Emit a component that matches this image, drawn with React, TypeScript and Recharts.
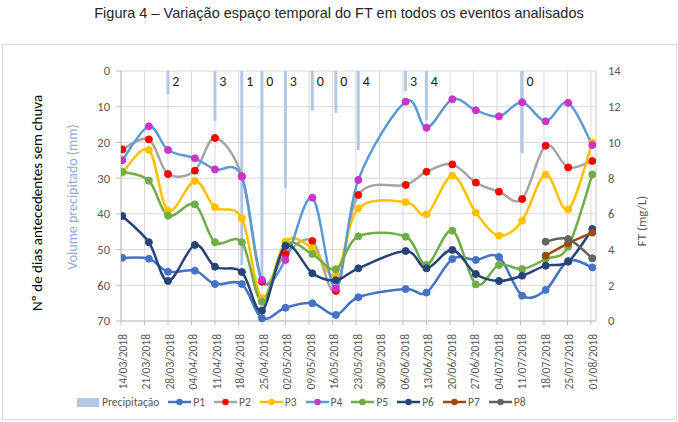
import React from 'react';
import { ComposedChart, Bar, Line, XAxis, YAxis, CartesianGrid, Legend, LabelList } from 'recharts';

// ---------- DATA ----------
// weekly axis ticks (days since 14/03/2018)
const tickDays = [0, 7, 14, 21, 28, 35, 42, 49, 56, 63, 70, 77, 84, 91, 98, 105, 112, 119, 126, 133, 140];
const tickLabels = [
  '14/03/2018', '21/03/2018', '28/03/2018', '04/04/2018', '11/04/2018', '18/04/2018', '25/04/2018',
  '02/05/2018', '09/05/2018', '16/05/2018', '23/05/2018', '30/05/2018', '06/06/2018', '13/06/2018',
  '20/06/2018', '27/06/2018', '04/07/2018', '11/07/2018', '18/07/2018', '25/07/2018', '01/08/2018',
];
// sampling events (days since 14/03/2018)
const sampleDays = [0.4, 8.3, 14, 22, 28, 36, 42, 49, 57, 64, 70.7, 84.8, 91, 98.7, 105.7, 112.6, 119.5, 126.5, 133.2, 140.4];
// precipitation before each event (mm)
const precipitation = [null, null, 6.5, null, 14, 54.3, 59, 32.7, 11.1, 11.7, 22.1, 5.6, 13.7, null, null, null, 23, null, null, null];
// number of antecedent days without rain
const dryDays = [null, null, 2, null, 3, 1, 0, 3, 0, 0, 4, 3, 4, null, null, null, 0, null, null, null];
// FT (mg/L)
const p1 = [3.54, 3.49, 2.76, 2.82, 2.07, 2.07, 0.15, 0.74, 0.99, 0.34, 1.33, 1.79, 1.59, 3.47, 3.42, 3.58, 1.42, 1.74, 3.36, 3.0];
const p2 = [9.61, 10.17, 8.23, 8.42, 10.25, 8.1, 2.2, 3.75, 4.48, 1.68, 7.06, 7.62, 8.36, 8.77, 7.75, 7.24, 6.83, 9.82, 8.6, 8.96];
const p3 = [8.3, 9.58, 6.18, 7.84, 6.37, 5.75, 1.27, 4.45, 4.07, 2.58, 6.3, 6.66, 5.97, 8.14, 6.07, 4.78, 5.62, 8.2, 6.25, 10.0];
const p4 = [9.0, 10.9, 9.58, 9.11, 8.49, 8.08, 2.3, 3.42, 6.9, 1.83, 7.9, 12.28, 10.82, 12.42, 11.8, 11.46, 12.25, 11.18, 12.22, 9.85];
const p5 = [8.36, 7.86, 5.9, 6.53, 4.41, 4.41, 1.08, 4.26, 3.75, 2.9, 4.74, 4.72, 3.14, 5.06, 2.05, 3.14, 2.91, 3.47, 4.16, 8.21];
const p6 = [5.88, 4.41, 2.24, 4.26, 3.04, 2.74, 0.58, 4.2, 2.67, 2.28, 2.95, 3.92, 2.95, 3.98, 2.63, 2.24, 2.54, 3.1, 3.32, 5.15];
const p7 = [null, null, null, null, null, null, null, null, null, null, null, null, null, null, null, null, null, 3.66, 4.35, 4.95];
const p8 = [null, null, null, null, null, null, null, null, null, null, null, null, null, null, null, null, null, 4.44, 4.59, 3.51];

const seriesValues: Record<string, (number | null)[]> = { P1: p1, P2: p2, P3: p3, P4: p4, P5: p5, P6: p6, P7: p7, P8: p8 };

const data = sampleDays.map((day, i) => {
  const row: Record<string, number | null> = { day, precip: precipitation[i], dry: dryDays[i] };
  Object.keys(seriesValues).forEach((k) => { row[k] = seriesValues[k][i]; });
  return row;
});

// ---------- STYLE ----------
const FONT = 'Carlito, Lato, "Open Sans", sans-serif';
const GRID = '#D9D9D9';
const AXIS = '#BFBFBF';
const TEXT = '#595959';
const BAR = '#B4C7E7';

const seriesStyle = [
  { key: 'P1', line: '#4472C4', dot: '#4472C4' },
  { key: 'P2', line: '#A5A5A5', dot: '#FF0000' },
  { key: 'P3', line: '#FFC000', dot: '#FFC000' },
  { key: 'P4', line: '#5B9BD5', dot: '#CC33CC' },
  { key: 'P5', line: '#70AD47', dot: '#70AD47' },
  { key: 'P6', line: '#264478', dot: '#264478' },
  { key: 'P7', line: '#9E480E', dot: '#9E480E' },
  { key: 'P8', line: '#636363', dot: '#636363' },
];

// Excel-like smoothed line (Catmull-Rom as cubic Bezier)
const excelSmooth = (context: any) => {
  let pts: [number, number][] = [];
  return {
    areaStart() {},
    areaEnd() {},
    lineStart() { pts = []; },
    lineEnd() {
      const n = pts.length;
      if (!n) return;
      context.moveTo(pts[0][0], pts[0][1]);
      if (n === 1) { context.lineTo(pts[0][0], pts[0][1]); return; }
      for (let i = 0; i < n - 1; i++) {
        const p0 = pts[Math.max(i - 1, 0)];
        const a = pts[i];
        const b = pts[i + 1];
        const p3 = pts[Math.min(i + 2, n - 1)];
        context.bezierCurveTo(
          a[0] + (b[0] - p0[0]) / 6, a[1] + (b[1] - p0[1]) / 6,
          b[0] - (p3[0] - a[0]) / 6, b[1] - (p3[1] - a[1]) / 6,
          b[0], b[1],
        );
      }
    },
    point(x: number, y: number) { pts.push([+x, +y]); },
  };
};

const DateTick = (props: any) => {
  const { x, y, payload } = props;
  const idx = tickDays.indexOf(payload.value);
  return (
    <g transform={`translate(${x},${y + 4})`}>
      <text transform="rotate(-90)" x={0} y={0} dy={6} textAnchor="end" fill={TEXT} fontSize={11.5} fontFamily={FONT}>
        {idx >= 0 ? tickLabels[idx] : ''}
      </text>
    </g>
  );
};

const DryLabel = (props: any) => {
  const { x, y, width, height, value } = props;
  if (value === null || value === undefined || x === undefined) return null;
  const top = Math.min(Number(y), Number(y) + Number(height));
  return (
    <text x={Number(x) + Number(width) / 2 + 8} y={top + 15} textAnchor="middle" fill="#1a1a1a" fontSize={14} fontFamily={FONT}>
      {value}
    </text>
  );
};

const renderLegend = () => (
  <div style={{ display: 'flex', alignItems: 'center', paddingLeft: 77, height: 20, fontFamily: FONT, fontSize: 11.5, color: TEXT, whiteSpace: 'nowrap' }}>
    <span style={{ display: 'inline-flex', alignItems: 'center', marginRight: 9 }}>
      <span style={{ display: 'inline-block', width: 22, height: 9, background: BAR, marginRight: 3 }} />
      Precipitação
    </span>
    {seriesStyle.map((s) => (
      <span key={s.key} style={{ display: 'inline-flex', alignItems: 'center', marginRight: 9 }}>
        <svg width={23} height={10} style={{ marginRight: 2 }}>
          <line x1={0} y1={5} x2={23} y2={5} stroke={s.line} strokeWidth={2.5} />
          <circle cx={11.5} cy={5} r={3.2} fill={s.dot} />
        </svg>
        {s.key}
      </span>
    ))}
  </div>
);

export default function App() {
  return (
    <div style={{ position: 'absolute', left: 0, top: 0, width: 678, height: 422, background: '#fff', overflow: 'hidden' }}>
      <div style={{ position: 'absolute', left: 0, top: 5, width: 678, textAlign: 'center', fontFamily: '"Liberation Sans", Arial, sans-serif', fontSize: 14.5, color: '#262626' }}>
        Figura 4 – Variação espaço temporal do FT em todos os eventos analisados
      </div>
      <div style={{ position: 'absolute', left: 2, top: 44, width: 673, height: 374, border: `1px solid ${GRID}` }} />
      <div style={{ position: 'absolute', left: 0, top: 0 }}>
        <ComposedChart width={678} height={422} data={data} margin={{ top: 71, right: 0, bottom: 0, left: 0 }}>
          <CartesianGrid yAxisId="left" stroke={GRID} strokeWidth={1} />
          <XAxis
            dataKey="day"
            type="number"
            domain={[0, 141.5]}
            ticks={tickDays}
            interval={0}
            allowDataOverflow
            height={101}
            tick={<DateTick />}
            tickSize={4}
            tickMargin={5}
            tickLine={{ stroke: AXIS }}
            axisLine={{ stroke: AXIS }}
          />
          <YAxis
            yAxisId="left"
            domain={[0, 70]}
            ticks={[0, 10, 20, 30, 40, 50, 60, 70]}
            reversed
            width={121}
            tickSize={5}
            tickMargin={6}
            tick={{ fill: TEXT, fontSize: 12.5, fontFamily: FONT }}
            tickLine={{ stroke: AXIS }}
            axisLine={{ stroke: AXIS }}
          />
          <YAxis
            yAxisId="right"
            orientation="right"
            domain={[0, 14]}
            ticks={[0, 2, 4, 6, 8, 10, 12, 14]}
            width={82}
            tickLine={false}
            tickMargin={6}
            tick={{ fill: TEXT, fontSize: 12.5, fontFamily: FONT }}
            axisLine={{ stroke: GRID }}
          />
          <Bar yAxisId="left" dataKey="precip" name="Precipitação" fill={BAR} barSize={3} isAnimationActive={false}>
            <LabelList dataKey="dry" content={<DryLabel />} />
          </Bar>
          {seriesStyle.map((s) => (
            <Line
              key={s.key}
              yAxisId="right"
              dataKey={s.key}
              name={s.key}
              type={excelSmooth as any}
              stroke={s.line}
              strokeWidth={2.5}
              dot={{ r: 3.5, fill: s.dot, stroke: s.dot, strokeWidth: 1 }}
              activeDot={false}
              isAnimationActive={false}
            />
          ))}
          <Legend verticalAlign="middle" align="center" content={renderLegend} wrapperStyle={{ left: 0, top: 392, width: 678 }} />
          <text transform="translate(37,203) rotate(-90)" textAnchor="middle" dominantBaseline="central" fontFamily={FONT} fontSize={15} fill="#000">
            Nº de dias antecedentes sem chuva
          </text>
          <text transform="translate(72,197) rotate(-90)" textAnchor="middle" dominantBaseline="central" fontFamily={FONT} fontSize={14} fill="#8FAADC">
            Volume precipitado (mm)
          </text>
          <text transform="translate(641,221) rotate(-90)" textAnchor="middle" dominantBaseline="central" fontFamily={FONT} fontSize={13} fill={TEXT}>
            FT (mg/L)
          </text>
        </ComposedChart>
      </div>
    </div>
  );
}
